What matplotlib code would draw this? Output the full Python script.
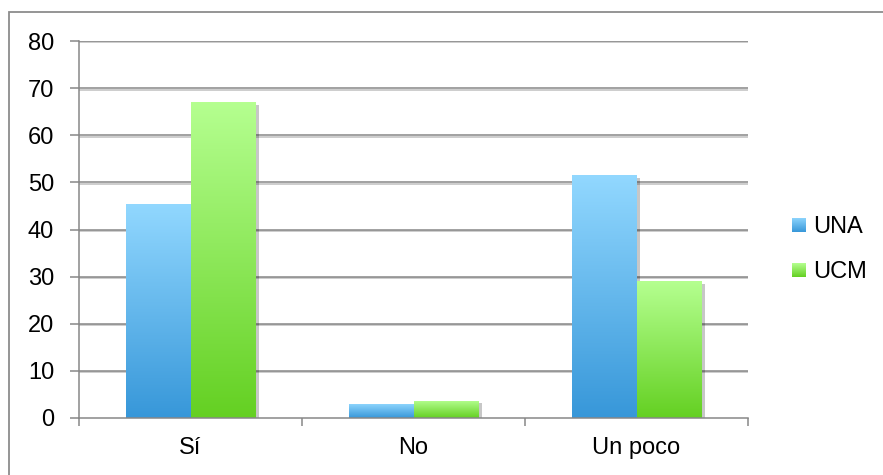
import numpy as np
import matplotlib.pyplot as plt
import matplotlib.patheffects as pe
from matplotlib.colors import LinearSegmentedColormap
from matplotlib.patches import Rectangle

plt.rcParams['font.family'] = ['Liberation Sans', 'DejaVu Sans']

categories = ['Sí', 'No', 'Un poco']
una = [45.5, 3, 51.5]
ucm = [67, 3.7, 29]
series_names = ['UNA', 'UCM']

# bottom -> top gradient colours, Excel style
una_cmap = LinearSegmentedColormap.from_list('una', ['#3797d9', '#92d8ff'])
ucm_cmap = LinearSegmentedColormap.from_list('ucm', ['#64d022', '#b5ff90'])
grad = np.linspace(0, 1, 256).reshape(-1, 1)

W, H = 883, 475
fs = 17
fig = plt.figure(figsize=(W / 100, H / 100), dpi=100)
ax = fig.add_axes([79 / W, 1 - 418 / H, (748 - 79) / W, (418 - 41) / H])

x = np.arange(len(categories))
bw = 0.29
grid_col = '#878787'

ax.set_ylim(0, 80)
ax.set_xlim(-0.5, len(categories) - 0.5)
ax.set_yticks(range(0, 81, 10))
for y in range(10, 81, 10):
    ax.axhline(y, color=grid_col, lw=1.1, zorder=1,
               path_effects=[pe.SimpleLineShadow(offset=(0, -1), alpha=0.25), pe.Normal()])

for vals, off, cmap in [(una, -bw / 2, una_cmap), (ucm, bw / 2, ucm_cmap)]:
    bars = ax.bar(x + off, vals, width=bw, facecolor='none', edgecolor='none', zorder=3,
                  path_effects=[pe.SimplePatchShadow(offset=(2.5, -2), shadow_rgbFace='#000000', alpha=0.22)])
    for b in bars:
        x0, y0 = b.get_x(), b.get_y()
        im = ax.imshow(grad, cmap=cmap, origin='lower', aspect='auto', zorder=4,
                       extent=[x0, x0 + b.get_width(), y0, y0 + b.get_height()])
        im.set_clip_path(b)

ax.set_ylim(0, 80)
ax.set_xlim(-0.5, len(categories) - 0.5)

for s in ['top', 'right']:
    ax.spines[s].set_visible(False)
for s in ['left', 'bottom']:
    ax.spines[s].set_color(grid_col)
    ax.spines[s].set_linewidth(1.1)
    ax.spines[s].set_zorder(5)

ax.set_xticks(x)
ax.set_xticklabels(categories, fontsize=fs)
ax.set_xticks(np.arange(-0.5, len(categories)), minor=True)
ax.tick_params(axis='x', which='major', length=0, pad=14)
ax.tick_params(axis='x', which='minor', length=6, color=grid_col, width=1.1)
ax.tick_params(axis='y', length=6.5, color=grid_col, width=1.1, pad=11.5, labelsize=fs)

# legend with gradient swatches
for i, (name, cmap) in enumerate(zip(series_names, [una_cmap, ucm_cmap])):
    base = 233 + 45 * i
    lax = fig.add_axes([792 / W, 1 - (base - 1) / H, 14 / W, 14 / H])
    lax.imshow(grad, cmap=cmap, origin='lower', aspect='auto')
    lax.axis('off')
    fig.text(813 / W, 1 - base / H, name, fontsize=fs, va='baseline', ha='left')

# outer chart frame
fig.patches.append(Rectangle((9 / W, -0.1), 1.2, 1 - 12 / H + 0.1, transform=fig.transFigure,
                             facecolor='none', edgecolor='#8c8c8c', lw=1.3))

fig.savefig('out.png', dpi=100)
